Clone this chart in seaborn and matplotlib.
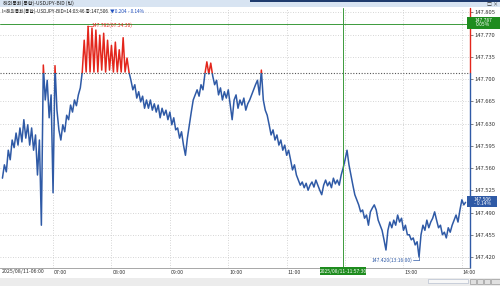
import matplotlib
matplotlib.use("Agg")
import matplotlib.pyplot as plt
import matplotlib.dates as mdates
from matplotlib.patches import Rectangle
import numpy as np
import pandas as pd
import seaborn as sns

sns.set_style("white")
plt.rcParams['font.family'] = ['Noto Sans CJK KR', 'DejaVu Sans']

# ---------------- data (USDJPY bid, 2-minute samples from 06:08) ----------------
price_0608_0730 = [147.544, 147.565, 147.554, 147.588, 147.573, 147.604, 147.592, 147.615, 147.596, 147.623,
                   147.601, 147.636, 147.607, 147.628, 147.596, 147.623, 147.588, 147.612, 147.549, 147.604,
                   147.470, 147.722, 147.667, 147.698, 147.639, 147.675, 147.521, 147.721, 147.651, 147.620,
                   147.604, 147.628, 147.617, 147.643, 147.636, 147.659, 147.648, 147.667, 147.658, 147.675,
                   147.686]
price_0730_0900 = [147.711, 147.761, 147.711, 147.783, 147.711, 147.780, 147.711, 147.777, 147.711, 147.769,
                   147.714, 147.772, 147.711, 147.761, 147.714, 147.753, 147.711, 147.758, 147.711, 147.746,
                   147.711, 147.765, 147.711, 147.733, 147.711, 147.698, 147.683, 147.691, 147.670, 147.680,
                   147.664, 147.673, 147.654, 147.667, 147.654, 147.667, 147.651, 147.661, 147.648, 147.659,
                   147.639, 147.654, 147.643, 147.651, 147.636, 147.648, 147.628, 147.639, 147.620]
price_0900_1100 = [147.623, 147.607, 147.617, 147.596, 147.580, 147.607, 147.628, 147.648, 147.667, 147.675,
                   147.683, 147.673, 147.691, 147.683, 147.708, 147.727, 147.708, 147.725, 147.705, 147.691,
                   147.698, 147.675, 147.686, 147.667, 147.680, 147.670, 147.683, 147.659, 147.636, 147.667,
                   147.675, 147.654, 147.667, 147.659, 147.670, 147.651, 147.661, 147.667, 147.675, 147.683,
                   147.691, 147.698, 147.675, 147.714, 147.667, 147.651, 147.643, 147.628, 147.612, 147.620,
                   147.604, 147.612, 147.596, 147.604, 147.588, 147.596, 147.580, 147.588, 147.573, 147.557]
price_1100_1300 = [147.565, 147.549, 147.541, 147.533, 147.538, 147.529, 147.536, 147.525, 147.533, 147.538,
                   147.530, 147.541, 147.533, 147.525, 147.518, 147.533, 147.541, 147.532, 147.538, 147.529,
                   147.544, 147.535, 147.541, 147.533, 147.549, 147.560, 147.573, 147.588, 147.565, 147.549,
                   147.533, 147.518, 147.510, 147.502, 147.491, 147.494, 147.481, 147.486, 147.470, 147.491,
                   147.497, 147.502, 147.494, 147.478, 147.470, 147.462, 147.447, 147.431, 147.462, 147.475,
                   147.466, 147.478, 147.470, 147.486, 147.475, 147.481, 147.462, 147.470, 147.455, 147.455]
price_1300_1404 = [147.447, 147.450, 147.439, 147.444, 147.420, 147.455, 147.470, 147.462, 147.478, 147.466,
                   147.475, 147.481, 147.491, 147.478, 147.466, 147.470, 147.455, 147.459, 147.450, 147.466,
                   147.459, 147.470, 147.478, 147.486, 147.475, 147.494, 147.510, 147.502, 147.506]

prices = price_0608_0730 + price_0730_0900 + price_0900_1100 + price_1100_1300 + price_1300_1404
times = list(pd.date_range("2025-08-11 06:08", periods=len(prices) - 1, freq="2min")) + \
    [pd.Timestamp("2025-08-11 14:03:46")]
df = pd.DataFrame({"time": times, "price": prices})

prev_close = 147.710
last_price = 147.506
cross_price = 147.787
cross_time = pd.Timestamp("2025-08-11 11:57:30")
hi_price, hi_time = 147.782, pd.Timestamp("2025-08-11 07:34:30")
lo_price, lo_time = 147.420, pd.Timestamp("2025-08-11 13:16:00")
ytick_vals = [147.420, 147.455, 147.490, 147.525, 147.560, 147.595, 147.630,
              147.665, 147.700, 147.735, 147.770, 147.805]
hour_labels = ["07:00", "08:00", "09:00", "10:00", "11:00", "13:00", "14:00"]

# ---------------- figure ----------------
W, H = 500, 286
fig = plt.figure(figsize=(W / 100, H / 100), dpi=100)
fig.patch.set_facecolor("white")


def fx(px):
    return px / W


def fy(py):
    return 1 - py / H


ax = fig.add_axes([0, fy(268), fx(470), (268 - 8) / H])
x0 = pd.Timestamp("2025-08-11 06:05:30")
x1 = pd.Timestamp("2025-08-11 14:08:20")
ax.set_xlim(x0, x1)
ax.set_ylim(147.4027, 147.8117)

BLUE = "#2f5aa6"
RED = "#e3261c"
GREEN = "#3b9a3b"

sns.lineplot(data=df, x="time", y="price", ax=ax, color=BLUE, lw=1.1)
ln_blue = ax.lines[-1]
sns.lineplot(data=df, x="time", y="price", ax=ax, color=RED, lw=1.1)
ln_red = ax.lines[-1]
clip_lo = Rectangle((mdates.date2num(x0), 147.0), 10, prev_close - 147.0,
                    transform=ax.transData, visible=False)
clip_hi = Rectangle((mdates.date2num(x0), prev_close), 10, 1.0,
                    transform=ax.transData, visible=False)
ax.add_patch(clip_lo)
ax.add_patch(clip_hi)
ln_blue.set_clip_path(clip_lo)
ln_red.set_clip_path(clip_hi)

# grid
ax.set_yticks(ytick_vals)
ax.set_yticklabels([f"{v:.3f}" for v in ytick_vals])
hours = [pd.Timestamp(f"2025-08-11 {h}") for h in hour_labels]
ax.set_xticks(hours + [pd.Timestamp("2025-08-11 12:00")])
ax.set_xticklabels([])
ax.grid(True, color="#c8c8c8", ls=(0, (1, 2)), lw=0.6)
ax.set_xlabel("")
ax.set_ylabel("")
ax.yaxis.tick_right()
ax.tick_params(axis="y", labelsize=4.2, length=2, width=0.5, pad=1.5, colors="#555", labelcolor="#333")
ax.tick_params(axis="x", length=2, width=0.5, colors="#666")
for s in ["top", "left", "right"]:
    ax.spines[s].set_visible(False)
ax.spines["bottom"].set_color("#999")
ax.spines["bottom"].set_linewidth(0.6)

# right axis line coloured red above / blue below previous close
frac = (prev_close - 147.4027) / (147.8117 - 147.4027)
ax.axvline(x1, ymin=frac, ymax=1, color=RED, lw=1.0, clip_on=False)
ax.axvline(x1, ymin=0, ymax=frac, color=BLUE, lw=1.0, clip_on=False)

# previous close dotted line
ax.axhline(prev_close, color="#555", ls=(0, (1, 1.5)), lw=0.8)
# crosshair
ax.axhline(cross_price, color=GREEN, lw=0.7)
ax.axvline(cross_time, color=GREEN, lw=0.7)

# hi / lo annotations
ax.plot([hi_time, hi_time + pd.Timedelta(minutes=5)], [hi_price + 0.002] * 2, color=RED, lw=0.5)
ax.text(hi_time + pd.Timedelta(minutes=5.5), hi_price + 0.002, f"{hi_price:.3f}(07:34:30)",
        fontsize=3.6, color=RED, va="center", ha="left")
ax.plot([lo_time - pd.Timedelta(minutes=6), lo_time], [lo_price - 0.005] * 2, color=BLUE, lw=0.5)
ax.plot([lo_time, lo_time], [lo_price - 0.005, lo_price], color=BLUE, lw=0.5)
ax.text(lo_time - pd.Timedelta(minutes=6.5), lo_price - 0.005, f"{lo_price:.3f}(13:16:00)",
        fontsize=3.6, color=BLUE, va="center", ha="right")

# x labels
fig.text(fx(2), fy(272), "2025/08/11-06:00", fontsize=3.8, color="#333", va="center", ha="left")
for h, lab in zip(hours, hour_labels):
    xp = (mdates.date2num(h) - mdates.date2num(x0)) / (mdates.date2num(x1) - mdates.date2num(x0)) * 470
    fig.text(fx(xp + 1), fy(272), lab, fontsize=3.8, color="#333", va="center", ha="left")

# green crosshair time box
fig.patches.append(Rectangle((fx(320), fy(275)), fx(46), 8 / H, transform=fig.transFigure,
                             facecolor="#1e8c1e", edgecolor="none"))
fig.text(fx(343), fy(271), "2025/08/11-11:57:30", fontsize=3.6, color="white", ha="center", va="center")

# right value boxes
fig.patches.append(Rectangle((fx(467), fy(28.5)), fx(33), 11.5 / H, transform=fig.transFigure,
                             facecolor="#1e8c1e", edgecolor="none"))
fig.text(fx(483), fy(22.5), f"{cross_price:.3f}\n0.05%", fontsize=3.5, color="white",
         ha="center", va="center", linespacing=0.9)
fig.patches.append(Rectangle((fx(467), fy(207)), fx(30), 11 / H, transform=fig.transFigure,
                             facecolor=BLUE, edgecolor="none"))
fig.text(fx(482), fy(201.5), f"{last_price:.3f}\n- 0.14%", fontsize=3.5, color="white",
         ha="center", va="center", linespacing=0.9)

# title bar
fig.patches.append(Rectangle((0, fy(7)), 1, 7 / H, transform=fig.transFigure,
                             facecolor="#d8e4f2", edgecolor="none"))
fig.patches.append(Rectangle((fx(250), fy(1.5)), fx(250), 1.5 / H, transform=fig.transFigure,
                             facecolor="#1f3b6e", edgecolor="none"))
fig.text(fx(3), fy(3.5), "해외통화(통합)-USDJPY-BID (틱)", fontsize=3.6, color="#222", va="center", ha="left")
fig.text(fx(487), fy(4), "□ ×", fontsize=3.6, color="#333", va="center", ha="left")

# subtitle (chained so that parts never overlap)
t1 = fig.text(fx(2), fy(11.5), "I<해외통화(통합)-USDJPY-BID>14:03:46 종:147,506", fontsize=3.4,
              color="#222", va="center", ha="left")
t2 = fig.text(0, 0, "")
t2 = plt.annotate("  ▼0.204", xy=(1, 0.5), xycoords=t1, fontsize=3.4, color="#2050c0",
                  va="center", ha="left", annotation_clip=False)
t3 = plt.annotate("  - 0.14%", xy=(1, 0.5), xycoords=t2, fontsize=3.4, color="#2050c0",
                  va="center", ha="left", annotation_clip=False)

# bottom scroll bar
fig.patches.append(Rectangle((0, 0), 1, 8 / H, transform=fig.transFigure,
                             facecolor="#ececec", edgecolor="none"))
fig.patches.append(Rectangle((fx(428), fy(283)), fx(40), 4 / H, transform=fig.transFigure,
                             facecolor="#f7f7f7", edgecolor="#aab4c8", lw=0.4))
for bx in [470, 477, 484]:
    fig.patches.append(Rectangle((fx(bx), fy(284)), fx(6), 5 / H, transform=fig.transFigure,
                                 facecolor="#e0e0e0", edgecolor="#888", lw=0.4))
fig.patches.append(Rectangle((fx(491), fy(284)), fx(9), 5 / H, transform=fig.transFigure,
                             facecolor="#e0e0e0", edgecolor="#888", lw=0.4))

fig.savefig("out.png", dpi=100)
